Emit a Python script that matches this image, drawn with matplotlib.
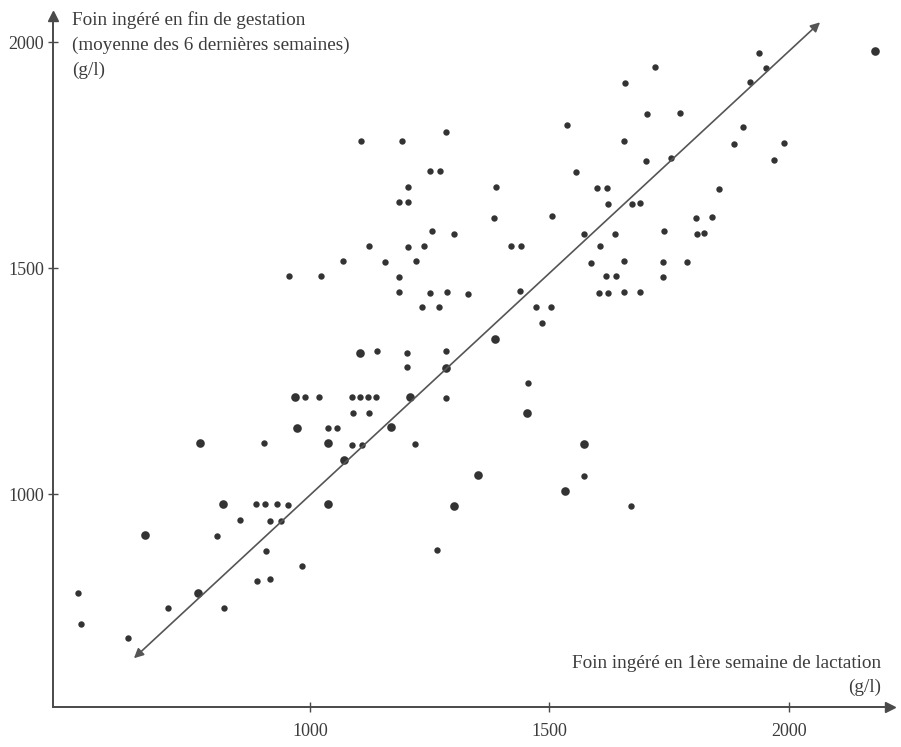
import numpy as np
import matplotlib
matplotlib.use('Agg')
from matplotlib import pyplot as plt

# hay eaten, 1st week of lactation (x) vs end of gestation (y), g/l
x_small = [516, 522, 620, 704, 820, 806, 887, 906, 931, 954, 854, 916, 939, 908, 983, 889, 916,
           904, 990, 1019, 1088, 1104, 1121, 1138, 1284, 1090, 1123, 1038, 1056, 1088, 1109, 1219,
           1265, 1234, 1269, 1140, 1203, 1284, 1203,
           1472, 1503, 1484, 1455, 1572, 1670,
           1106, 1192, 1284, 1251, 1271, 1205, 1388, 1186, 1205, 1384, 1255, 1301, 1123, 1205, 1238,
           1069, 1157, 1221, 956, 1023, 1186, 1186, 1251, 1286, 1330,
           1704, 1772, 1537, 1904, 1990, 1656, 1885, 1701, 1754, 1969, 1555, 1599, 1620, 1622, 1672,
           1689, 1854, 1505, 1806, 1839, 1572, 1637, 1739, 1808, 1823, 1420, 1440, 1605, 1587, 1656,
           1737, 1787, 1618, 1639, 1737, 1438, 1603, 1622, 1656, 1689, 1937, 1952, 1919,
           1658, 1720]
y_small = [781, 712, 681, 748, 748, 907, 978, 978, 978, 976, 942, 940, 940, 874, 841, 808, 812,
           1113, 1215, 1215, 1215, 1215, 1215, 1215, 1212, 1179, 1179, 1146, 1146, 1108, 1108, 1111,
           876, 1414, 1414, 1316, 1312, 1316, 1281,
           1414, 1414, 1378, 1246, 1040, 973,
           1781, 1781, 1801, 1715, 1715, 1679, 1679, 1646, 1646, 1611, 1582, 1575, 1549, 1546, 1549,
           1515, 1513, 1515, 1482, 1482, 1480, 1447, 1445, 1447, 1442,
           1841, 1843, 1816, 1812, 1777, 1781, 1774, 1737, 1743, 1739, 1712, 1677, 1677, 1642, 1642,
           1644, 1675, 1615, 1611, 1613, 1575, 1575, 1582, 1575, 1577, 1549, 1549, 1549, 1511, 1515,
           1513, 1513, 1482, 1482, 1480, 1449, 1445, 1445, 1447, 1447, 1976, 1942, 1912,
           1909, 1945]

x_big = [766, 656, 818, 1038, 770, 969, 1209, 973, 1169, 1038, 1071, 1351, 1301, 1386, 1104,
         1284, 1453, 1572, 1532, 2180]
y_big = [781, 909, 978, 978, 1113, 1215, 1215, 1146, 1148, 1113, 1075, 1042, 973, 1343, 1312,
         1279, 1179, 1111, 1007, 1980]

# bisector arrow
line_start = (633, 637)
line_end = (2065, 2044)

xticks = [1000, 1500, 2000]
yticks = [1000, 1500, 2000]

plt.rcParams['font.family'] = ['Liberation Serif', 'DejaVu Serif']

fig = plt.figure(figsize=(9.01, 7.47), dpi=100)
W, H = 901.0, 747.0
ax = fig.add_axes([53 / W, 40 / H, 837 / W, 691 / H])
ax.set_xlim(464, 2211)
ax.set_ylim(529, 2058)

axcol = '#4a4a4a'
txtcol = '#3c3c3c'
for s in ['top', 'right']:
    ax.spines[s].set_visible(False)
for s in ['left', 'bottom']:
    ax.spines[s].set_color(axcol)
    ax.spines[s].set_linewidth(1.4)

# arrow heads on the axes
ax.plot(1, 0, '>', color=axcol, ms=7, transform=ax.transAxes, clip_on=False)
ax.plot(0, 1, '^', color=axcol, ms=7, transform=ax.transAxes, clip_on=False)

ax.set_xticks(xticks)
ax.set_yticks(yticks)
ax.tick_params(direction='inout', length=7, width=1, color=axcol, labelsize=13,
               labelcolor=txtcol)
ax.tick_params(axis='x', pad=8)
ax.tick_params(axis='y', pad=3)

ax.annotate('', xy=line_end, xytext=line_start,
            arrowprops=dict(arrowstyle='<|-|>', color='#555555', lw=1.2,
                            mutation_scale=14, shrinkA=0, shrinkB=0))

ax.plot(x_small, y_small, 'o', color='#333333', ms=4.6, mec='none')
ax.plot(x_big, y_big, 'o', color='#333333', ms=6.2, mec='none')

fig.text(72 / W, 1 - 11 / H,
         'Foin ingéré en fin de gestation\n(moyenne des 6 dernières semaines)\n(g/l)',
         ha='left', va='top', fontsize=13.8, color=txtcol, linespacing=1.6)
fig.text(881 / W, 1 - 655 / H,
         'Foin ingéré en 1ère semaine de lactation\n(g/l)',
         ha='right', va='top', fontsize=13.8, color=txtcol, linespacing=1.5,
         multialignment='right')

plt.savefig('out.png', dpi=100)
